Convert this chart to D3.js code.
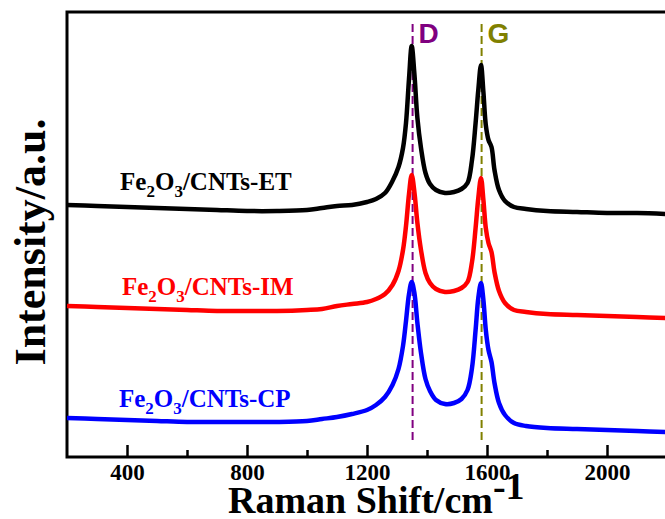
<!DOCTYPE html>
<html>
<head>
<meta charset="utf-8">
<script src="https://cdn.jsdelivr.net/npm/d3@7/dist/d3.min.js"></script>
<style>
  body { margin: 0; background: #fff; }
  svg { display: block; }
</style>
</head>
<body>
<div id="chart"></div>
<script>
// Raman shift (cm-1) sample points
const shift = [200, 300, 400, 500, 600, 700, 800, 900, 1000, 1050, 1100, 1150, 1200, 1230, 1260, 1285,
  1305, 1320, 1330, 1340, 1349, 1358, 1368, 1380, 1395, 1410, 1430, 1460, 1490, 1515, 1535, 1550,
  1562, 1571, 1580, 1588, 1596, 1605, 1615, 1625, 1640, 1660, 1690, 1730, 1800, 1900, 2000, 2100, 2200];

// stacked intensities (a.u., offset per sample)
const etCounts = [252, 251, 250, 249, 248, 247, 246, 246, 247, 249, 251, 252, 255, 258, 264, 276,
  290, 309, 334, 378, 411, 383, 339, 309, 284, 273, 267, 264, 265, 268, 274, 297,
  334, 367, 392, 365, 332, 317, 310, 287, 267, 256, 250, 248, 246, 245, 244, 244, 243];
const imCounts = [151, 150, 149, 148, 147, 146, 146, 146, 147, 148, 151, 153, 155, 158, 163, 172,
  186, 207, 231, 263, 282, 265, 234, 207, 184, 174, 168, 165, 166, 169, 175, 195,
  229, 259, 279, 257, 229, 214, 205, 185, 166, 154, 147, 145, 143, 142, 141, 140, 139];
const cpCounts = [39, 38, 37, 36, 35, 35, 35, 35, 36, 38, 40, 43, 47, 52, 60, 72,
  88, 111, 136, 163, 175, 164, 134, 104, 78, 66, 57, 53, 54, 58, 67, 89,
  127, 159, 174, 157, 127, 107, 95, 74, 54, 42, 34, 31, 29, 28, 27, 26, 25];

const sampleNames = ["ET", "IM", "CP"];
const sampleColors = ["#000000", "#ff0000", "#0000ff"];
const labelShift = [377, 383, 373];
const labelLevel = [267, 162, 50];

const bandNames = ["D", "G"];
const bandShift = [1352, 1582];
const bandColors = ["#800080", "#808000"];

const majorTicks = [400, 800, 1200, 1600, 2000];
const minorTicks = [600, 1000, 1400, 1800];

const width = 665, height = 519;

const svg = d3.select("#chart").append("svg")
  .attr("width", width)
  .attr("height", height);

const x = d3.scaleLinear().domain([200, 2200]).range([67, 667]);
const y = d3.scaleLinear().domain([0, 445]).range([457, 12]);

// axes (ticks pointing inward)
const xAxis = d3.axisBottom(x).tickValues(majorTicks).tickSize(-12).tickPadding(7).tickFormat(d3.format("d"));
const xMinor = d3.axisBottom(x).tickValues(minorTicks).tickSize(-7).tickFormat("");

const gx = svg.append("g").attr("transform", `translate(0,${y(0)})`).call(xAxis);
const gm = svg.append("g").attr("transform", `translate(0,${y(0)})`).call(xMinor);
[gx, gm].forEach(g => {
  g.select(".domain").remove();
  g.selectAll(".tick line").attr("stroke", "#000").attr("stroke-width", 2.5);
});
gx.selectAll(".tick text")
  .attr("fill", "#000")
  .style("font-family", "'Liberation Serif', 'Times New Roman', serif")
  .style("font-weight", "bold")
  .style("font-size", "23px");

// frame
svg.append("rect")
  .attr("x", x(200)).attr("y", y(445))
  .attr("width", x(2200) - x(200)).attr("height", y(0) - y(445))
  .attr("fill", "none").attr("stroke", "#000").attr("stroke-width", 3);

// band guides
bandNames.forEach((b, i) => {
  svg.append("line")
    .attr("x1", x(bandShift[i])).attr("x2", x(bandShift[i]))
    .attr("y1", y(433)).attr("y2", y(17))
    .attr("stroke", bandColors[i]).attr("stroke-width", 2)
    .attr("stroke-dasharray", "8,4");
  svg.append("text")
    .attr("x", x(bandShift[i]) + 6).attr("y", y(414))
    .attr("fill", bandColors[i])
    .style("font-family", "'Liberation Sans', Arial, sans-serif")
    .style("font-weight", "bold").style("font-size", "28px")
    .text(b);
});

// spectra
const line = d3.line()
  .x((d, i) => x(shift[i]))
  .y(d => y(d))
  .curve(d3.curveCatmullRom.alpha(0.5));

[etCounts, imCounts, cpCounts].forEach((s, i) => {
  svg.append("path")
    .datum(s)
    .attr("d", line)
    .attr("fill", "none")
    .attr("stroke", sampleColors[i])
    .attr("stroke-width", 4.5)
    .attr("stroke-linejoin", "round");
});

// sample labels
sampleNames.forEach((n, i) => {
  const t = svg.append("text")
    .attr("x", x(labelShift[i])).attr("y", y(labelLevel[i]))
    .attr("fill", sampleColors[i])
    .style("font-family", "'Liberation Serif', 'Times New Roman', serif")
    .style("font-weight", "bold").style("font-size", "25px");
  t.append("tspan").text("Fe");
  t.append("tspan").attr("dy", 7).style("font-size", "17px").text("2");
  t.append("tspan").attr("dy", -7).text("O");
  t.append("tspan").attr("dy", 7).style("font-size", "17px").text("3");
  t.append("tspan").attr("dy", -7).text("/CNTs-" + n);
});

// axis titles
const xt = svg.append("text")
  .attr("x", 228).attr("y", 513)
  .style("font-family", "'Liberation Serif', 'Times New Roman', serif")
  .style("font-weight", "bold").style("font-size", "38px");
xt.append("tspan").text("Raman Shift/cm");
xt.append("tspan").attr("dy", -14).text("-1");

svg.append("text")
  .attr("transform", "translate(45,242) rotate(-90)")
  .attr("text-anchor", "middle")
  .style("font-family", "'Liberation Serif', 'Times New Roman', serif")
  .style("font-weight", "bold").style("font-size", "44px")
  .text("Intensity/a.u.");
</script>
</body>
</html>
